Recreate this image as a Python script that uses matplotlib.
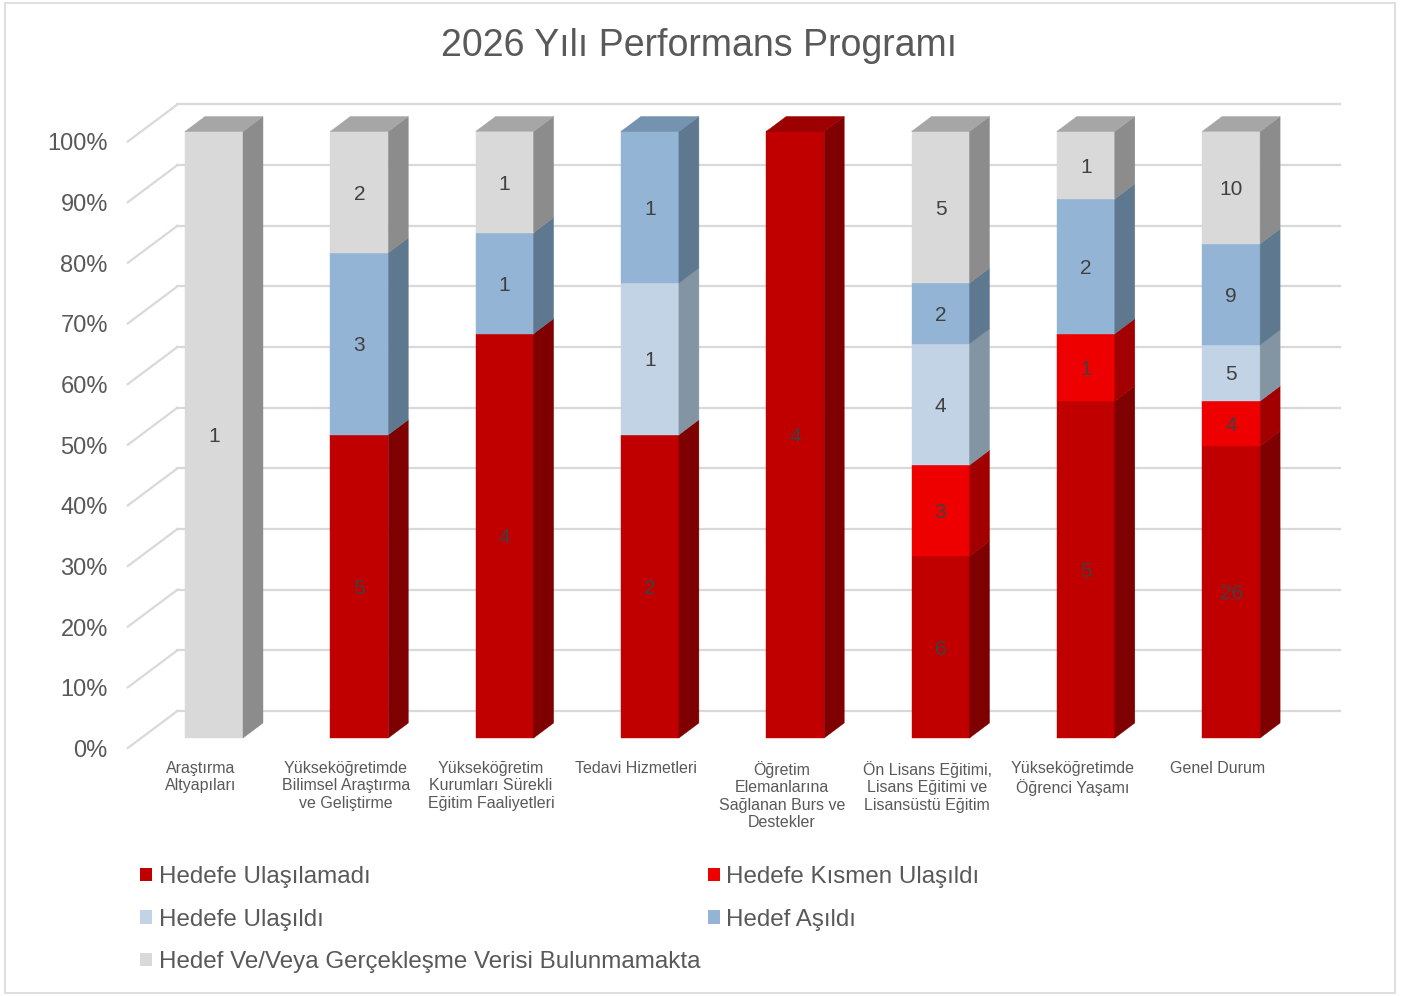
import matplotlib
matplotlib.use('Agg')
import matplotlib.pyplot as plt
from matplotlib.patches import Polygon, Patch, Rectangle

plt.rcParams['font.family'] = ['Liberation Sans', 'DejaVu Sans']

# data
categories = ['Araştırma\nAltyapıları',
              'Yükseköğretimde\nBilimsel Araştırma\nve Geliştirme',
              'Yükseköğretim\nKurumları Sürekli\nEğitim Faaliyetleri',
              'Tedavi Hizmetleri',
              'Öğretim\nElemanlarına\nSağlanan Burs ve\nDestekler',
              'Ön Lisans Eğitimi,\nLisans Eğitimi ve\nLisansüstü Eğitim',
              'Yükseköğretimde\nÖğrenci Yaşamı',
              'Genel Durum']
series_names = ['Hedefe Ulaşılamadı', 'Hedefe Kısmen Ulaşıldı', 'Hedefe Ulaşıldı',
                'Hedef Aşıldı', 'Hedef Ve/Veya Gerçekleşme Verisi Bulunmamakta']
ulasilamadi = [0, 5, 4, 2, 4, 6, 5, 26]
kismen = [0, 0, 0, 0, 0, 3, 1, 4]
ulasildi = [0, 0, 0, 1, 0, 4, 0, 5]
asildi = [0, 3, 1, 1, 0, 2, 2, 9]
veri_yok = [1, 2, 1, 0, 0, 5, 1, 10]
yticks = [0, 10, 20, 30, 40, 50, 60, 70, 80, 90, 100]

# colours: front, side, top
front_cols = ['#C00000', '#EE0000', '#C2D3E6', '#93B4D5', '#D9D9D9']
side_cols = ['#7E0000', '#A20000', '#8394A3', '#5E7890', '#8C8C8C']
top_cols = ['#9C0000', '#C80000', '#A2B3C4', '#7592AE', '#A6A6A6']

W, H = 1407, 996
PX_X = 145.3   # pixels per category
PX_Y = 6.065   # pixels per percent
fig = plt.figure(figsize=(W / 100, H / 100), dpi=100)
ax = fig.add_axes([0, 0, 1, 1])
ax.set_xlim(-214 / PX_X, (W - 214) / PX_X)
ax.set_ylim(-(H - 738) / PX_Y, 738 / PX_Y)
ax.axis('off')

bw = 58 / PX_X
bdx, bdy = 20 / PX_X, 15 / PX_Y      # bar depth
wdx, wdy = 36 / PX_X, 27 / PX_Y      # back wall
fdx, fdy = -13.5 / PX_X, -10 / PX_Y  # front floor edge
grid_c = '#D9D9D9'
txt_c = '#595959'

# gridlines on the back wall + diagonal at left
for t in yticks:
    ax.plot([-0.5 + wdx, 7.5 + wdx], [t + wdy, t + wdy], color=grid_c, lw=1.6, zorder=1)
    ax.plot([-0.5 + fdx, -0.5 + wdx], [t + fdy, t + wdy], color=grid_c, lw=1.6, zorder=1)
    ax.text(-0.5 + fdx - 20 / PX_X, t + fdy - 3 / PX_Y, f'{t}%', ha='right', va='center',
            fontsize=17, color=txt_c)

series = [ulasilamadi, kismen, ulasildi, asildi, veri_yok]
for i in range(len(categories)):
    total = sum(s[i] for s in series)
    bottom = 0
    segs = [(k, s[i] / total * 100) for k, s in enumerate(series) if s[i] > 0]
    for j, (k, h) in enumerate(segs):
        x0, x1 = i - bw / 2, i + bw / 2
        y0, y1 = bottom, bottom + h
        ax.add_patch(Polygon([(x0, y0), (x1, y0), (x1, y1), (x0, y1)],
                             facecolor=front_cols[k], edgecolor=front_cols[k], lw=0.3, zorder=3))
        ax.add_patch(Polygon([(x1, y0), (x1 + bdx, y0 + bdy), (x1 + bdx, y1 + bdy), (x1, y1)],
                             facecolor=side_cols[k], edgecolor=side_cols[k], lw=0.3, zorder=3))
        if j == len(segs) - 1:
            ax.add_patch(Polygon([(x0, y1), (x1, y1), (x1 + bdx, y1 + bdy), (x0 + bdx, y1 + bdy)],
                                 facecolor=top_cols[k], edgecolor=top_cols[k], lw=0.3, zorder=3))
        ax.text(i, (y0 + y1) / 2 - 2 / PX_Y, str(series[k][i]), ha='center', va='center',
                fontsize=15, color='#404040', zorder=4)
        bottom = y1
    ax.text(i + fdx, -13 / PX_Y + fdy, categories[i], ha='center', va='top',
            fontsize=11.5, color=txt_c, linespacing=1.2)

fig.text(0.497, 1 - 46 / H, '2026 Yılı Performans Programı', ha='center', va='center',
         fontsize=27, color=txt_c)

# legend (column-major order to match)
order = [0, 2, 4, 1, 3]
handles = [Patch(facecolor=front_cols[k], edgecolor='none') for k in order]
labels = [series_names[k] for k in order]
fig.legend(handles, labels, ncol=2, loc='upper left', bbox_to_anchor=(140 / W, 1 - 866 / H),
           frameon=False, fontsize=17.4, handlelength=0.5, handleheight=0.5,
           handletextpad=0.28, columnspacing=0.3, labelspacing=0.85,
           borderaxespad=0, borderpad=0, labelcolor=txt_c)

fig.patches.append(Rectangle((5 / W, 3 / H), 1390 / W, 990 / H, transform=fig.transFigure,
                             fill=False, edgecolor='#D9D9D9', lw=1.2))

fig.savefig('out.png', dpi=100)
